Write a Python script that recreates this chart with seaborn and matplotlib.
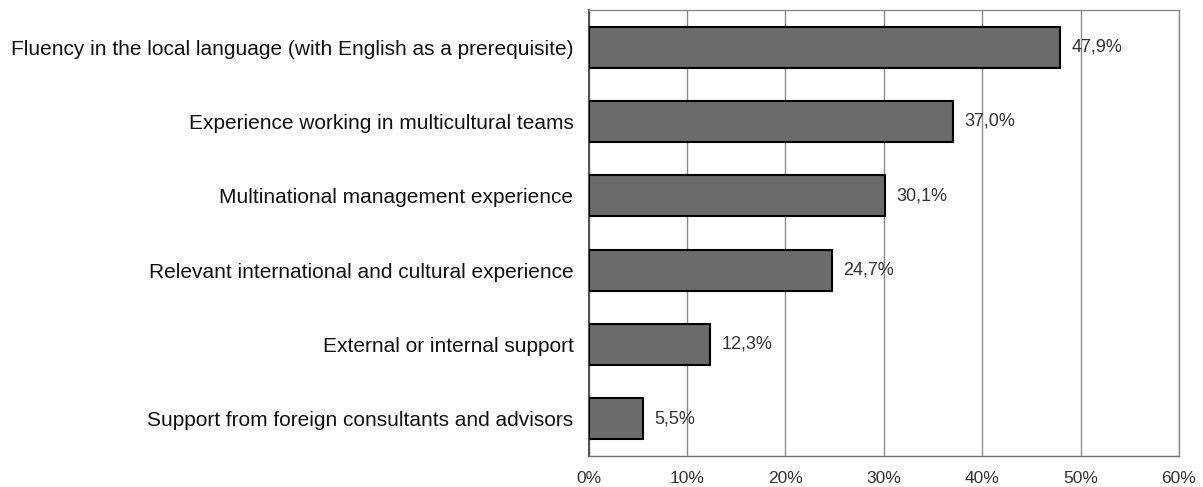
import matplotlib
matplotlib.use("Agg")
import matplotlib.pyplot as plt
import seaborn as sns
import pandas as pd
import numpy as np
from matplotlib.ticker import FixedLocator

categories = [
    "Fluency in the local language (with English as a prerequisite)",
    "Experience working in multicultural teams",
    "Multinational management experience",
    "Relevant international and cultural experience",
    "External or internal support",
    "Support from foreign consultants and advisors",
]
values = [47.9, 37.0, 30.1, 24.7, 12.3, 5.5]
value_labels = ["47,9%", "37,0%", "30,1%", "24,7%", "12,3%", "5,5%"]
xticks = [0, 10, 20, 30, 40, 50, 60]
xtick_labels = ["0%", "10%", "20%", "30%", "40%", "50%", "60%"]

sns.set_style("white")
plt.rcParams['font.family'] = ['Liberation Sans', 'DejaVu Sans']

df = pd.DataFrame({"cat": categories, "val": values})

fig = plt.figure(figsize=(12.03, 4.87), dpi=100)
ax = fig.add_axes([0.4894, 0.0637, 0.4906, 0.9158])

sns.barplot(data=df, x="val", y="cat", orient="h", color="#6b6b6b",
            width=0.55, edgecolor="black", linewidth=1.5, saturation=1, ax=ax, zorder=3)

ax.set_xlim(0, 60)
ax.set_ylim(len(categories) - 0.5, -0.5)
ax.set_xticks(xticks)
ax.set_xticklabels(xtick_labels, fontsize=12.5, color="#333333")
ax.xaxis.grid(True, color="#8c8c8c", linewidth=1.0, zorder=0)
ax.set_axisbelow(True)

ax.set_yticks(range(len(categories)))
ax.set_yticklabels(categories, fontsize=15, color="#111111")
ax.tick_params(axis="y", length=0, pad=11)
ax.yaxis.set_minor_locator(FixedLocator(np.arange(-0.5, len(categories), 1.0)))
ax.tick_params(axis="y", which="minor", length=4, color="#808080", direction="out", width=1)
ax.tick_params(axis="x", length=5, color="#808080", direction="out", width=1, pad=6)

ax.set_xlabel("")
ax.set_ylabel("")

for s in ["top", "right", "bottom", "left"]:
    ax.spines[s].set_visible(True)
    ax.spines[s].set_color("#8c8c8c")
    ax.spines[s].set_linewidth(1.0)
ax.spines["left"].set_color("#555555")
ax.spines["left"].set_linewidth(1.5)
ax.spines["bottom"].set_color("#707070")

for i, (v, lab) in enumerate(zip(values, value_labels)):
    ax.text(v + 1.2, i, lab, va="center", ha="left", fontsize=13, color="#333333")

fig.savefig("out.png", dpi=100)
